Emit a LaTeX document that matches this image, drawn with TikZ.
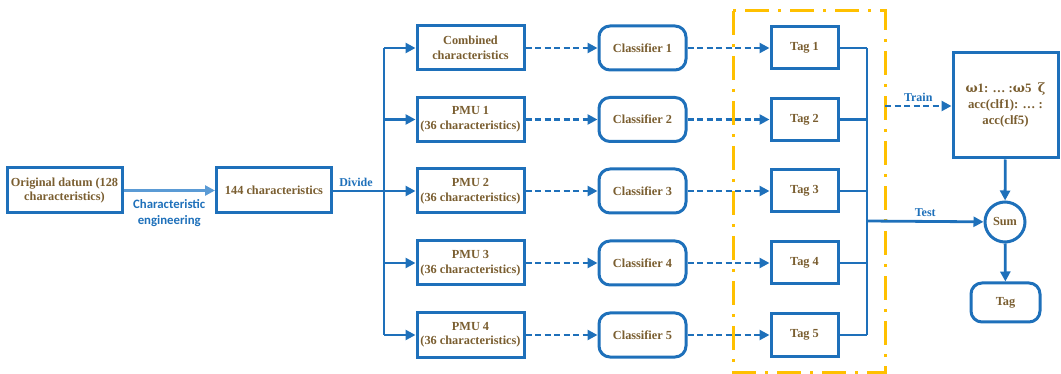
\documentclass[tikz,border=0pt]{standalone}
\usepackage{fontspec}
\setmainfont{Liberation Serif}
\newfontfamily\lblfont{Carlito}
\newfontfamily\symfont{DejaVu Serif}
\usetikzlibrary{arrows.meta}
\definecolor{bblue}{RGB}{30,112,186}
\definecolor{lblue}{RGB}{91,155,213}
\definecolor{tbrown}{RGB}{122,94,48}
\definecolor{gold}{RGB}{255,192,0}
\tikzset{
  box/.style={draw=bblue, line width=3pt, fill=white, minimum width=#1, minimum height=44pt, inner sep=1pt, align=center, font=\fontsize{12.3}{14.5}\selectfont\bfseries, text=tbrown},
  box/.default=107pt,
  rbox/.style={box=#1, rounded corners=11pt},
  rbox/.default=87pt,
  conn/.style={draw=bblue, line width=2.8pt},
  arr/.style={conn, -{Triangle[length=10pt,width=10pt]}},
  darr/.style={arr, dash pattern=on 6pt off 3.5pt},
  lbl/.style={text=bblue, font=\fontsize{12}{14}\selectfont\bfseries},
}
\begin{document}
\begin{tikzpicture}[x=1pt,y=-1pt]
\path[use as bounding box] (0,0) rectangle (1061,374);
% orange frame
\draw[gold, line width=3pt, dash pattern=on 24pt off 9pt on 3pt off 9pt] (733,11) rectangle (885,372);

\node[box=115pt, minimum height=45pt] (orig) at (64.5,190.5) {Original datum (128\\characteristics)};
\node[box=115pt, minimum height=45pt] (c144) at (274,190.5) {144 characteristics};

\node[box] (f1) at (470.5,48) {Combined\\characteristics};
\node[box] (f2) at (470.5,119.5) {PMU 1\\(36 characteristics)};
\node[box] (f3) at (470.5,191) {PMU 2\\(36 characteristics)};
\node[box] (f4) at (470.5,263) {PMU 3\\(36 characteristics)};
\node[box] (f5) at (470.5,335) {PMU 4\\(36 characteristics)};

\node[rbox] (c1) at (642.5,48) {Classifier 1};
\node[rbox] (c2) at (642.5,119.5) {Classifier 2};
\node[rbox] (c3) at (642.5,191) {Classifier 3};
\node[rbox] (c4) at (642.5,263) {Classifier 4};
\node[rbox] (c5) at (642.5,335) {Classifier 5};

\node[box=67pt, minimum height=42pt] (t1) at (804.5,48) {Tag 1};
\node[box=67pt, minimum height=42pt] (t2) at (804.5,119.5) {Tag 2};
\node[box=67pt, minimum height=42pt] (t3) at (804.5,191) {Tag 3};
\node[box=67pt, minimum height=42pt] (t4) at (804.5,263) {Tag 4};
\node[box=67pt, minimum height=42pt] (t5) at (804.5,335) {Tag 5};

\node[box=105pt, minimum height=105pt, font=\fontsize{12.8}{16}\selectfont\bfseries] (w) at (1005.5,105.5) {{\symfont ω}1: … :{\symfont ω}5\enspace{\symfont ζ}\\acc(clf1): … :\\acc(clf5)};
\node[draw=bblue, line width=3pt, circle, minimum size=40pt, inner sep=0pt, font=\fontsize{12.3}{14}\selectfont\bfseries, text=tbrown] (sum) at (1005,222) {Sum};
\node[rbox=69pt, minimum height=39pt] (tag) at (1005.5,302.5) {Tag};

% connectors
\draw[arr, draw=lblue, line width=3.4pt] (orig) -- node[below=4pt, lbl, text=bblue, align=center, font=\lblfont\fontsize{12.8}{16}\selectfont\bfseries]{Characteristic\\engineering} (c144);
\coordinate (split) at (384,191);
\draw[conn] (c144.east |- split) -- node[above, lbl, pos=0.45]{Divide} (split);
\draw[conn] (384,48) -- (384,335);
\foreach \i in {1,...,5}{
  \draw[arr] (f\i.west -| split) -- (f\i.west);
  \draw[darr] (f\i) -- (c\i);
  \draw[darr] (c\i) -- (t\i);
}
\coordinate (bus) at (867,221);
\foreach \i in {1,...,5}{
  \draw[conn] (t\i.east) -- (t\i.east -| bus);
}
\draw[conn] (867,48) -- (867,335);
\draw[arr] (bus) -- node[above, lbl, pos=0.5]{Test} (sum);
\coordinate (trainstart) at (885,106);
\draw[darr] (trainstart) -- node[above, lbl]{Train} (w.west |- trainstart);
\draw[arr] (w) -- (sum);
\draw[arr] (sum) -- (tag);
\end{tikzpicture}
\end{document}
